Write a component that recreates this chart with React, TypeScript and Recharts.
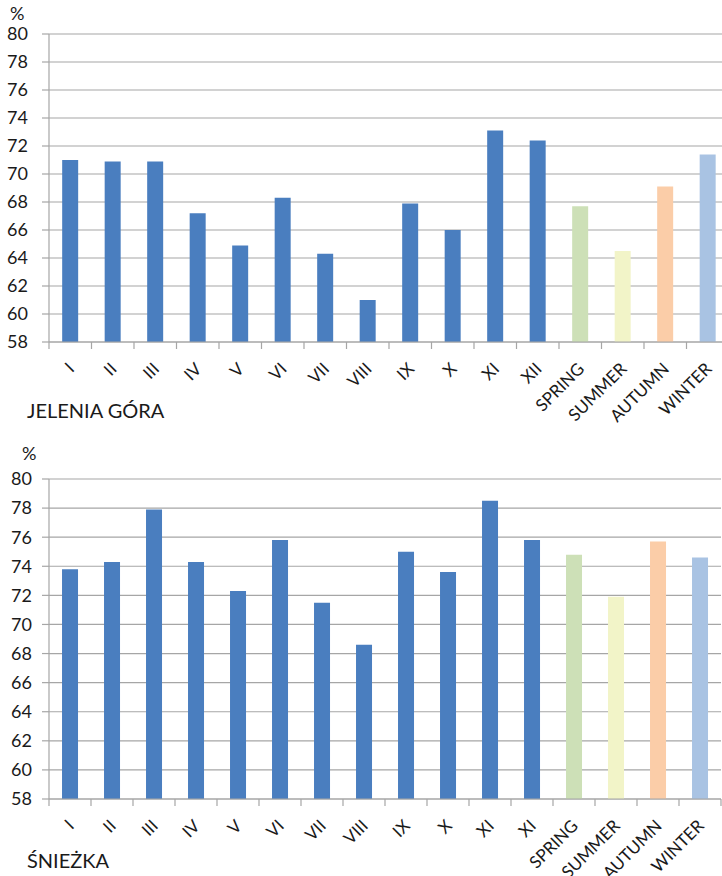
import { BarChart, Bar, XAxis, YAxis, CartesianGrid, Cell } from 'recharts'

const jeleniaLabels = ['I', 'II', 'III', 'IV', 'V', 'VI', 'VII', 'VIII', 'IX', 'X', 'XI', 'XII', 'SPRING', 'SUMMER', 'AUTUMN', 'WINTER']
const jeleniaValues = [71.0, 70.9, 70.9, 67.2, 64.9, 68.3, 64.3, 61.0, 67.9, 66.0, 73.1, 72.4, 67.7, 64.5, 69.1, 71.4]

const sniezkaLabels = ['I', 'II', 'III', 'IV', 'V', 'VI', 'VII', 'VIII', 'IX', 'X', 'XI', 'XI', 'SPRING', 'SUMMER', 'AUTUMN', 'WINTER']
const sniezkaValues = [73.8, 74.3, 77.9, 74.3, 72.3, 75.8, 71.5, 68.6, 75.0, 73.6, 78.5, 75.8, 74.8, 71.9, 75.7, 74.6]

const yTicks = [58, 60, 62, 64, 66, 68, 70, 72, 74, 76, 78, 80]

// 12 months in blue, then spring / summer / autumn / winter
const barColors = [
  '#4a7ebf', '#4a7ebf', '#4a7ebf', '#4a7ebf', '#4a7ebf', '#4a7ebf',
  '#4a7ebf', '#4a7ebf', '#4a7ebf', '#4a7ebf', '#4a7ebf', '#4a7ebf',
  '#cde0b7', '#f2f4c8', '#fbcda8', '#a9c3e3'
]

const gridColor = '#a6a6a6'
const textColor = '#1a1a1a'
const font = 'Lato, "Open Sans", sans-serif'
const xAxisHeight = 100

interface PanelProps {
  labels: string[]
  values: number[]
  width: number
  plotHeight: number
  rightMargin: number
  yTickMargin: number
}

const CategoryTick = (props: any) => {
  const { x, y, payload, step, count } = props
  const idx = payload?.index ?? 0
  const tx = x + 5
  const ty = y + 28
  return (
    <g>
      <line x1={x - step / 2} x2={x - step / 2} y1={y} y2={y + 7} stroke={gridColor} strokeWidth={1.2} />
      {idx === count - 1 && (
        <line x1={x + step / 2} x2={x + step / 2} y1={y} y2={y + 7} stroke={gridColor} strokeWidth={1.2} />
      )}
      <text
        x={tx}
        y={ty}
        transform={`rotate(-45, ${tx}, ${ty})`}
        textAnchor="end"
        fontSize={17}
        fontFamily={font}
        fill={textColor}
      >
        {payload.value}
      </text>
    </g>
  )
}

const Panel: React.FC<PanelProps> = ({ labels, values, width, plotHeight, rightMargin, yTickMargin }) => {
  const chartData = labels.map((label, i) => ({ label, value: values[i] }))
  const step = (width - 49 - rightMargin) / labels.length

  return (
    <BarChart
      width={width}
      height={34 + plotHeight + xAxisHeight}
      data={chartData}
      margin={{ top: 34, right: rightMargin, left: 0, bottom: 0 }}
      barCategoryGap="31%"
    >
      <CartesianGrid vertical={false} stroke={gridColor} strokeWidth={1.2} />
      <XAxis
        dataKey="label"
        height={xAxisHeight}
        interval={0}
        allowDuplicatedCategory
        tickLine={false}
        tickSize={0}
        tickMargin={0}
        axisLine={{ stroke: gridColor, strokeWidth: 1.2 }}
        tick={<CategoryTick step={step} count={labels.length} />}
      />
      <YAxis
        width={49}
        domain={[58, 80]}
        ticks={yTicks}
        allowDataOverflow
        tickSize={7}
        tickMargin={yTickMargin}
        tickLine={{ stroke: gridColor, strokeWidth: 1.2 }}
        axisLine={{ stroke: gridColor, strokeWidth: 1.2 }}
        tick={{ fontSize: 18, fontFamily: font, fill: textColor }}
      />
      <Bar dataKey="value" isAnimationActive={false}>
        {chartData.map((entry, index) => (
          <Cell key={`cell-${index}`} fill={barColors[index]} />
        ))}
      </Bar>
    </BarChart>
  )
}

export default function App() {
  return (
    <div style={{ position: 'absolute', left: 0, top: 0, width: 722, height: 876, overflow: 'hidden', background: '#fff' }}>
      <svg width={722} height={876} style={{ position: 'absolute', left: 0, top: 0 }}>
        <text x={10} y={20} fontSize={18} fontFamily={font} fill={textColor}>%</text>
        <text x={22} y={460} fontSize={18} fontFamily={font} fill={textColor}>%</text>
        <text x={27} y={418} fontSize={20} fontFamily={font} fill={textColor}>JELENIA GÓRA</text>
        <text x={27} y={868} fontSize={20} fontFamily={font} fill={textColor}>ŚNIEŻKA</text>
      </svg>
      <div style={{ position: 'absolute', left: 0, top: 0 }}>
        <Panel labels={jeleniaLabels} values={jeleniaValues} width={740} plotHeight={308} rightMargin={11} yTickMargin={14} />
      </div>
      <div style={{ position: 'absolute', left: 0, top: 445 }}>
        <Panel labels={sniezkaLabels} values={sniezkaValues} width={722} plotHeight={320} rightMargin={1} yTickMargin={10} />
      </div>
    </div>
  )
}
